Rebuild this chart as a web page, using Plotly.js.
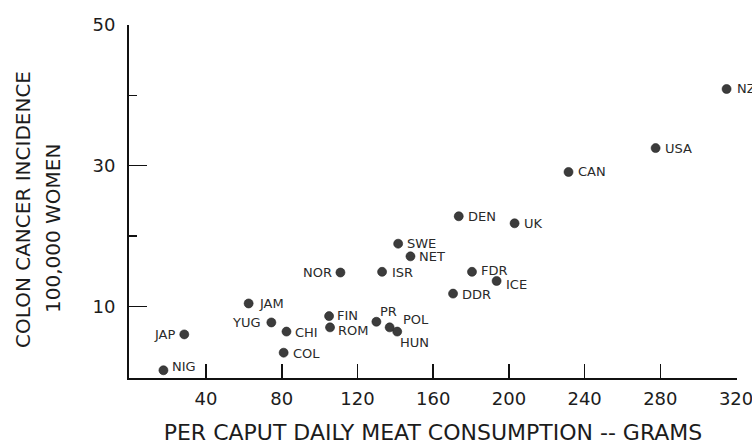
<!DOCTYPE html>
<html>
<head>
<meta charset="utf-8">
<script src="https://cdn.plot.ly/plotly-3.0.1.min.js"></script>
<style>html,body{margin:0;padding:0;background:#fff;}#chart{width:752px;height:448px;}</style>
</head>
<body>
<div id="chart"></div>
<script>
// Data
const countries = ['NZ','USA','CAN','DEN','UK','SWE','NET','NOR','ISR','FDR','ICE','DDR','JAM','FIN','ROM','PR','POL','HUN','YUG','CHI','JAP','COL','NIG'];
const meatGrams = [315, 277.5, 231.5, 173.5, 203, 141.5, 148, 111, 133, 180.5, 193.5, 170.5, 62.5, 105, 105.5, 130, 137, 141, 74.5, 82.5, 28.5, 81, 17.5];
const colonIncidence = [40.9, 32.5, 29.1, 22.8, 21.8, 18.9, 17.1, 14.8, 14.9, 14.9, 13.6, 11.8, 10.4, 8.6, 7.0, 7.8, 7.0, 6.4, 7.7, 6.4, 6.0, 3.4, 0.9];
const xTickVals = [40, 80, 120, 160, 200, 240, 280, 320];
const yTickVals = [10, 30, 50];
const yMinorVals = [20, 40];

// Label placement (style only): [anchor, dx px, dy px (up positive)]
const labelStyle = {
  NZ:['left',9,0], USA:['left',8,0], CAN:['left',8,0], DEN:['left',8,0], UK:['left',8,0],
  SWE:['left',8,0], NET:['left',8,0], NOR:['right',-7,0], ISR:['left',9,-1], FDR:['left',8,1],
  ICE:['left',8,-4], DDR:['left',8,-1], JAM:['left',9,0], FIN:['left',7,1], ROM:['left',7,-3],
  PR:['left',3,10], POL:['left',12,8], HUN:['left',2,-11], YUG:['right',-9,0], CHI:['left',8,-1],
  JAP:['right',-8,0], COL:['left',8,-1], NIG:['left',8,4]
};

const FONT = 'DejaVu Sans, Arial, sans-serif';
const INK = '#1c1c1c';

const trace = {
  type: 'scatter',
  mode: 'markers',
  x: meatGrams,
  y: colonIncidence,
  text: countries,
  cliponaxis: false,
  marker: {size: 9, color: '#3c3c3c', line: {color: '#222', width: 0.6}},
  hoverinfo: 'x+y+text'
};

const labelAnnotations = countries.map((c, i) => {
  const s = labelStyle[c];
  return {
    x: meatGrams[i], y: colonIncidence[i], xref: 'x', yref: 'y',
    text: c, showarrow: false,
    xanchor: s[0], yanchor: 'middle', xshift: s[1], yshift: s[2],
    font: {family: FONT, size: 13, color: '#2a2a2a'},
    borderpad: 0
  };
});

const yTitleLines = [
  {text: 'COLON CANCER INCIDENCE', x: -0.1743, y: 0.476},
  {text: '100,000 WOMEN', x: -0.125, y: 0.422}
];
const titleAnnotations = yTitleLines.map(t => ({
  text: t.text, x: t.x, y: t.y, xref: 'paper', yref: 'paper',
  xanchor: 'center', yanchor: 'middle', textangle: -90, showarrow: false,
  font: {family: FONT, size: 20, color: INK}
}));

const layout = {
  width: 752, height: 448,
  margin: {l: 129, r: 15, t: 25, b: 70},
  paper_bgcolor: '#fff', plot_bgcolor: '#fff',
  showlegend: false,
  font: {family: FONT, color: INK},
  xaxis: {
    range: [-0.7, 320.5],
    tickmode: 'array', tickvals: xTickVals,
    ticks: 'inside', ticklen: 14, tickwidth: 1.5, tickcolor: '#111',
    showline: true, linecolor: '#111', linewidth: 1.8,
    showgrid: false, zeroline: false,
    tickfont: {family: FONT, size: 18, color: INK},
    ticklabelstandoff: 4,
    ticklabeloverflow: 'allow',
    title: {text: 'PER CAPUT DAILY MEAT CONSUMPTION -- GRAMS', font: {family: FONT, size: 22, color: INK}, standoff: 16}
  },
  yaxis: {
    range: [-0.2, 50],
    tickmode: 'array', tickvals: yTickVals,
    ticks: 'inside', ticklen: 18, tickwidth: 1.5, tickcolor: '#111',
    minor: {tickmode: 'array', tickvals: yMinorVals, ticks: 'inside', ticklen: 8, tickwidth: 1.5, tickcolor: '#111', showgrid: false},
    showline: true, linecolor: '#111', linewidth: 2,
    showgrid: false, zeroline: false,
    tickfont: {family: FONT, size: 18, color: INK},
    ticklabelstandoff: 8
  },
  annotations: labelAnnotations.concat(titleAnnotations)
};

Plotly.newPlot('chart', [trace], layout, {staticPlot: true, displayModeBar: false});
</script>
</body>
</html>
